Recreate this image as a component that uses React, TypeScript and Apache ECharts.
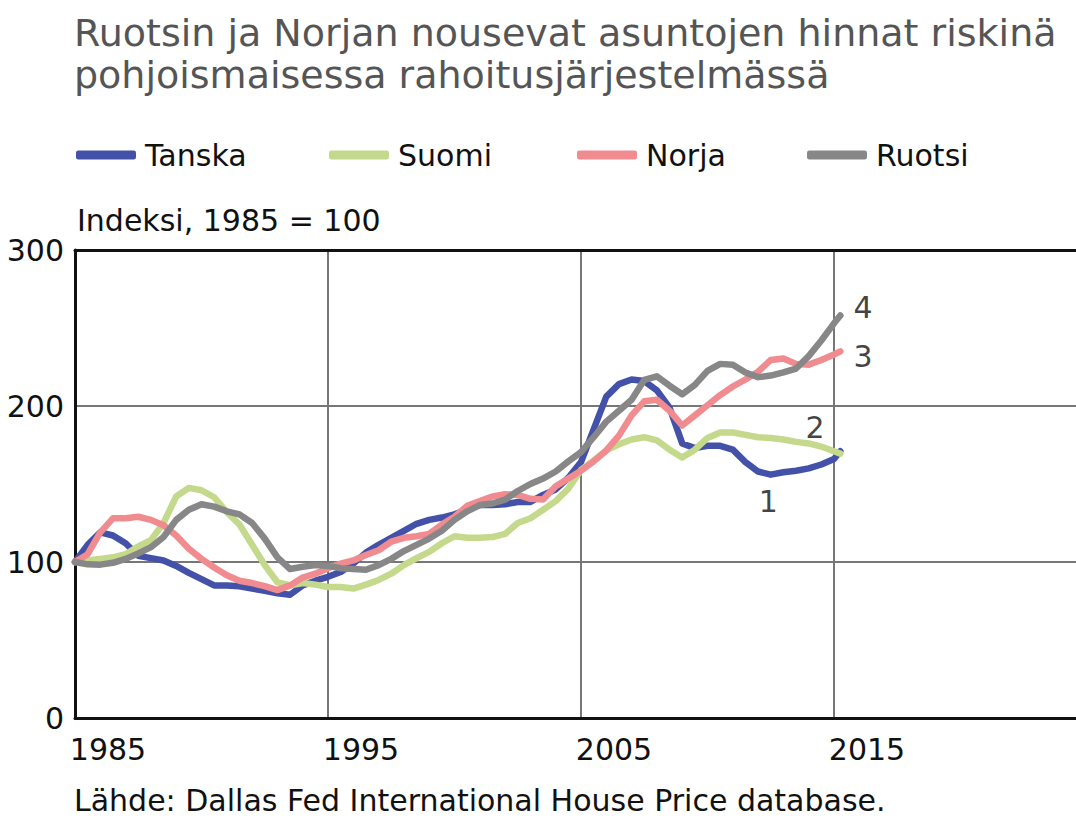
import React, { useEffect, useRef } from "react";
import * as echarts from "echarts";

const periods = [
  1985, 1985.5, 1986, 1986.5, 1987, 1987.5, 1988, 1988.5, 1989, 1989.5,
  1990, 1990.5, 1991, 1991.5, 1992, 1992.5, 1993, 1993.5, 1994, 1994.5,
  1995, 1995.5, 1996, 1996.5, 1997, 1997.5, 1998, 1998.5, 1999, 1999.5,
  2000, 2000.5, 2001, 2001.5, 2002, 2002.5, 2003, 2003.5, 2004, 2004.5,
  2005, 2005.5, 2006, 2006.5, 2007, 2007.5, 2008, 2008.5, 2009, 2009.5,
  2010, 2010.5, 2011, 2011.5, 2012, 2012.5, 2013, 2013.5, 2014, 2014.5,
  2015, 2015.25,
];

const tanska = [
  100, 111, 119, 117, 112, 104, 102.5, 101, 97.5, 93,
  89, 85, 85, 84.5, 83, 81.5, 80, 79, 85, 88,
  90.5, 93.6, 99, 106, 111, 115.5, 120, 124.5, 127, 128.5,
  130.5, 133.5, 136.5, 136.5, 137, 138.5, 138.5, 143, 146.5, 154,
  164, 185, 206, 214, 217, 216, 210, 199, 176, 173,
  174.5, 174.5, 172, 164, 158, 156, 157.5, 158.5, 160, 162.5,
  166, 171,
];

const suomi = [
  100, 101, 102, 103, 105, 110, 114, 125, 142, 147.5,
  146, 141.5, 132, 124, 111, 98, 87, 85, 86.5, 85.5,
  84, 84, 83, 85.5, 88.5, 92.5, 98, 102.5, 106.5, 112,
  116.5, 115.5, 115.5, 116, 118, 125, 128, 133.5, 139, 147,
  159, 165, 171.5, 175.5, 178.5, 180, 178, 172, 167, 172,
  179.5, 183, 183, 181.5, 180, 179.5, 178.5, 177, 176, 174,
  171, 169.5,
];

const norja = [
  100, 105, 119, 128, 128, 129, 127, 123.5, 117, 108.5,
  102, 96.5, 91.5, 88, 86.5, 84.5, 82, 85, 90, 92.5,
  96, 99, 101, 104.5, 107.5, 113, 115.5, 116.5, 118, 124,
  129, 136, 139, 142, 143.5, 143, 140.5, 140, 148.5, 153.5,
  158.5, 164.5, 171.5, 181, 194, 203, 204, 197, 187.5, 194,
  200.5, 207, 212.5, 217, 222, 229.5, 230.5, 227, 226.5, 229.5,
  233, 235,
];

const ruotsi = [
  100, 98.5, 98.3, 99.5, 102, 105.5, 109.5, 116, 127, 133.5,
  137, 135.5, 132.5, 130.5, 125, 115, 103, 95.5, 97, 98,
  97.5, 96, 95.5, 95, 98, 102, 107, 111, 115, 120,
  127, 132.5, 136.5, 137.5, 140, 145.5, 150, 153.5, 158, 164.5,
  170.5, 180, 190, 197, 204, 216.7, 219, 213, 207.5, 213.5,
  222.5, 227, 226.5, 221.5, 218.5, 219.5, 221.5, 224, 232, 242,
  253, 258,
];

const seriesNames = ["Tanska", "Suomi", "Norja", "Ruotsi"];
const seriesValues = [tanska, suomi, norja, ruotsi];
const seriesColors = ["#4351a8", "#c4d98b", "#f08c90", "#878787"];
const legendLefts = [76, 329, 577, 807];

// annotation numbers: [label, year, value]
const annotations: [string, number, number][] = [
  ["1", 2012.4, 138.5],
  ["2", 2014.25, 186.5],
  ["3", 2016.15, 232],
  ["4", 2016.15, 263],
];

const titleText = "Ruotsin ja Norjan nousevat asuntojen hinnat riskinä\npohjoismaisessa rahoitusjärjestelmässä";
const unitText = "Indeksi, 1985 = 100";
const sourceText = "Lähde: Dallas Fed International House Price database.";

const FONT = "'DejaVu Sans', sans-serif";

export default function App() {
  const ref = useRef<HTMLDivElement>(null);
  useEffect(() => {
    document.body.style.margin = "0";
    document.body.style.overflow = "hidden";
    document.documentElement.style.overflow = "hidden";
    if (!ref.current) return;
    const chart = echarts.init(ref.current, undefined, { renderer: "svg" });
    const series: any[] = seriesNames.map((name, i) => ({
      name,
      type: "line",
      showSymbol: false,
      symbol: "none",
      data: periods.map((p, j) => [p, seriesValues[i][j]]),
      lineStyle: { width: 6.5, color: seriesColors[i], join: "round", cap: "round" },
      itemStyle: { color: seriesColors[i] },
      z: 3,
    }));
    series.push({
      type: "scatter",
      name: "annotations",
      data: annotations.map((a) => ({ value: [a[1], a[2]], label: a[0] })),
      symbolSize: 1,
      itemStyle: { color: "rgba(0,0,0,0)" },
      label: {
        show: true,
        position: "inside",
        formatter: (p: any) => p.data.label,
        fontSize: 30,
        fontFamily: FONT,
        color: "#111",
      },
      silent: true,
      z: 4,
    });
    const legends = seriesNames.map((name, i) => ({
      data: [name],
      left: legendLefts[i],
      top: 140,
      padding: 0,
      icon: "roundRect",
      itemWidth: 60,
      itemHeight: 9,
      textStyle: { fontSize: 30, color: "#111", fontFamily: FONT, padding: [0, 0, 0, 4] },
    }));
    chart.setOption({
      animation: false,
      textStyle: { fontFamily: FONT },
      title: {
        text: titleText,
        left: 74,
        top: 12,
        padding: 0,
        textStyle: {
          fontSize: 38,
          fontWeight: "normal",
          color: "#555555",
          lineHeight: 42,
          fontFamily: FONT,
        },
      },
      legend: legends,
      graphic: [
        {
          type: "text",
          left: 77,
          top: 205,
          style: { text: unitText, fontSize: 30, fill: "#111", fontFamily: FONT },
        },
        {
          type: "text",
          left: 74,
          top: 785,
          style: { text: sourceText, fontSize: 30, fill: "#111", fontFamily: FONT },
        },
      ],
      grid: { left: 75, right: 3, top: 250, bottom: 100, containLabel: false },
      xAxis: [
        {
          type: "value",
          min: 1985,
          max: 2025,
          interval: 10,
          axisLine: { show: true, onZero: false, lineStyle: { color: "#111", width: 3 } },
          axisTick: { show: false },
          splitLine: { show: true, lineStyle: { color: "#777", width: 2 } },
          axisLabel: {
            fontSize: 30,
            color: "#111",
            align: "center",
            padding: [0, 0, 0, 66],
            margin: 16,
            showMaxLabel: false,
            fontFamily: FONT,
            formatter: (v: number) => String(v),
          },
        },
        {
          type: "value",
          position: "top",
          min: 1985,
          max: 2025,
          interval: 10,
          axisLine: { show: true, onZero: false, lineStyle: { color: "#111", width: 3 } },
          axisTick: { show: false },
          splitLine: { show: false },
          axisLabel: { show: false },
        },
      ],
      yAxis: {
        type: "value",
        min: 0,
        max: 300,
        interval: 100,
        axisLine: { show: true, lineStyle: { color: "#111", width: 3 } },
        axisTick: { show: false },
        splitLine: { show: true, lineStyle: { color: "#777", width: 2 } },
        axisLabel: { fontSize: 30, color: "#111", margin: 11, fontFamily: FONT },
      },
      series,
    });
    return () => chart.dispose();
  }, []);
  return <div ref={ref} style={{ width: 1090, height: 818 }} />;
}
